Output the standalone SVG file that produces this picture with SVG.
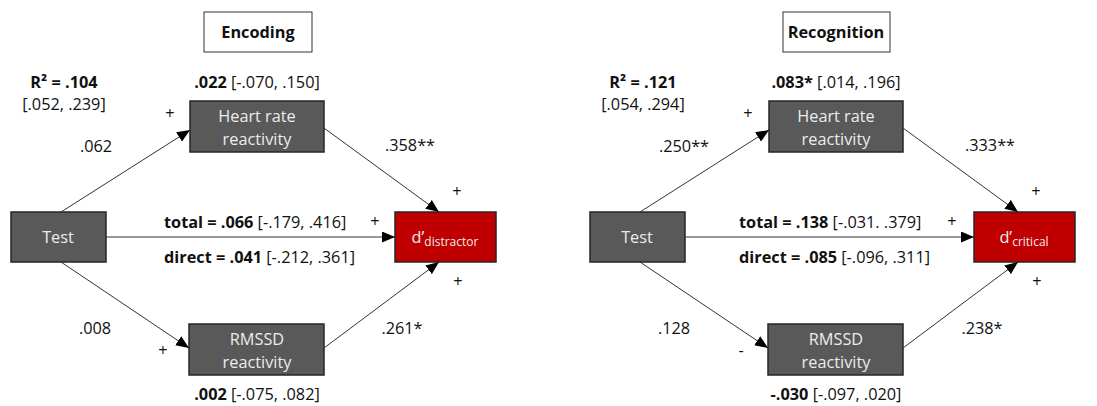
<svg xmlns="http://www.w3.org/2000/svg" width="1097" height="406" viewBox="0 0 1097 406">
<defs>
<marker id="ah" viewBox="0 0 13 11" refX="13" refY="5.5" markerWidth="13" markerHeight="11" markerUnits="userSpaceOnUse" orient="auto">
<path d="M0,0 L13,5.5 L0,11 Z" fill="#000"/>
</marker>
<style>
text{font-family:"Open Sans","Liberation Sans",sans-serif;font-size:16.3px;fill:#111;}
.b{font-weight:bold;}
.node{fill:#595959;stroke:#262626;stroke-width:1.5;}
.red{fill:#c00000;stroke:#262626;stroke-width:1.5;}
.title{fill:#fff;stroke:#333;stroke-width:1;}
.nt{fill:#ececec;font-size:16.3px;text-anchor:middle;}
.c{text-anchor:middle;}
.conn line{stroke:#333;stroke-width:1;marker-end:url(#ah);}
</style>
</defs>
<rect width="1097" height="406" fill="#fff"/>

<!-- Left panel -->
<g id="encoding-title"><rect class="title" x="204" y="12" width="108" height="40"/><text class="b c" x="258" y="38">Encoding</text></g>
<g id="enc-hr"><rect class="node" x="190" y="101" width="134" height="51"/><text class="nt" x="257" y="122">Heart rate</text><text class="nt" x="257" y="145">reactivity</text></g>
<g id="enc-test"><rect class="node" x="11" y="212" width="95" height="50"/><text class="nt" x="58" y="243">Test</text></g>
<g id="enc-d"><rect class="red" x="395" y="212" width="101" height="50"/><text class="nt" x="445" y="243">d’<tspan font-size="12" dy="3">distractor</tspan></text></g>
<g id="enc-rmssd"><rect class="node" x="189" y="324" width="135" height="51"/><text class="nt" x="257" y="345">RMSSD</text><text class="nt" x="257" y="368">reactivity</text></g>

<g id="enc-labels">
<text class="c" x="64" y="88"><tspan class="b">R² = .104</tspan></text>
<text class="c" x="64" y="110">[.052, .239]</text>
<text class="c" x="257" y="88"><tspan class="b">.022</tspan> [-.070, .150]</text>
<text class="c" x="170" y="119">+</text>
<text class="c" x="96" y="152">.062</text>
<text class="c" x="410" y="151">.358**</text>
<text class="c" x="457" y="197">+</text>
<text x="164" y="228"><tspan class="b">total = .066</tspan> [-.179, .416]</text>
<text class="c" x="375" y="227">+</text>
<text x="164" y="263"><tspan class="b">direct = .041</tspan> [-.212, .361]</text>
<text class="c" x="458" y="287">+</text>
<text class="c" x="95" y="334">.008</text>
<text class="c" x="163" y="356">+</text>
<text class="c" x="402" y="334">.261*</text>
<text class="c" x="257" y="400"><tspan class="b">.002</tspan> [-.075, .082]</text>
</g>

<!-- Right panel -->
<g id="recognition-title"><rect class="title" x="783" y="12" width="107" height="40"/><text class="b c" x="836" y="38">Recognition</text></g>
<g id="rec-hr"><rect class="node" x="769" y="101" width="134" height="51"/><text class="nt" x="836" y="122">Heart rate</text><text class="nt" x="836" y="145">reactivity</text></g>
<g id="rec-test"><rect class="node" x="590" y="212" width="95" height="50"/><text class="nt" x="637" y="243">Test</text></g>
<g id="rec-d"><rect class="red" x="974" y="212" width="101" height="50"/><text class="nt" x="1024" y="243">d’<tspan font-size="12" dy="3">critical</tspan></text></g>
<g id="rec-rmssd"><rect class="node" x="768" y="324" width="135" height="51"/><text class="nt" x="836" y="345">RMSSD</text><text class="nt" x="836" y="368">reactivity</text></g>

<g id="rec-labels">
<text class="c" x="643" y="88"><tspan class="b">R² = .121</tspan></text>
<text class="c" x="643" y="110">[.054, .294]</text>
<text class="c" x="836" y="88"><tspan class="b">.083*</tspan> [.014, .196]</text>
<text class="c" x="748" y="119">+</text>
<text class="c" x="684" y="152">.250**</text>
<text class="c" x="990" y="151">.333**</text>
<text class="c" x="1036" y="197">+</text>
<text x="739" y="228"><tspan class="b">total = .138</tspan> [-.031. .379]</text>
<text class="c" x="952" y="227">+</text>
<text x="739" y="263"><tspan class="b">direct = .085</tspan> [-.096, .311]</text>
<text class="c" x="1037" y="287">+</text>
<text class="c" x="674" y="334">.128</text>
<text class="c" x="741" y="356">-</text>
<text class="c" x="982" y="334">.238*</text>
<text class="c" x="836" y="400"><tspan class="b">-.030</tspan> [-.097, .020]</text>
</g>

<g id="connectors" class="conn">
<line x1="61" y1="212" x2="190" y2="130"/>
<line x1="324" y1="128" x2="439" y2="212"/>
<line x1="106" y1="237" x2="395" y2="237"/>
<line x1="61" y1="262" x2="189" y2="348"/>
<line x1="324" y1="348" x2="439" y2="262"/>
<line x1="640" y1="212" x2="769" y2="130"/>
<line x1="903" y1="128" x2="1018" y2="212"/>
<line x1="685" y1="237" x2="974" y2="237"/>
<line x1="640" y1="262" x2="768" y2="348"/>
<line x1="903" y1="348" x2="1018" y2="262"/>
</g>
</svg>
